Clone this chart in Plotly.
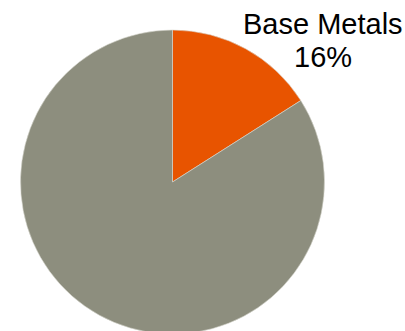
import plotly.graph_objects as go

# Portfolio split
labels = ["Base Metals", "Other"]
values = [16, 84]
colors = ["#E85400", "#8D8E7E"]

W, H = 405, 336
cx, cy, r = 172.5, 182.0, 152.0

fig = go.Figure(go.Pie(
    labels=labels,
    values=values,
    sort=False,
    direction="clockwise",
    rotation=0,
    marker=dict(colors=colors, line=dict(color="#d8d8d0", width=0.6)),
    textinfo="none",
    hoverinfo="label+percent",
    showlegend=False,
    domain=dict(x=[(cx - r) / W, (cx + r) / W],
                y=[(H - cy - r) / H, (H - cy + r) / H]),
))

# Outside label for the highlighted slice, text built from the data
total = sum(values)
pct = round(values[0] / total * 100)
label_font = dict(family="Liberation Sans, Arial, sans-serif", size=29, color="#000000")
for txt, ypx in [(labels[0], 24.5), (f"{pct}%", 57.5)]:
    fig.add_annotation(
        x=323 / W, y=1 - ypx / H, xref="paper", yref="paper",
        xanchor="center", yanchor="middle",
        text=txt, showarrow=False, font=label_font,
    )

fig.update_layout(
    width=W, height=H,
    margin=dict(l=0, r=0, t=0, b=0),
    paper_bgcolor="white",
    plot_bgcolor="white",
)

fig.write_html("out.html")
